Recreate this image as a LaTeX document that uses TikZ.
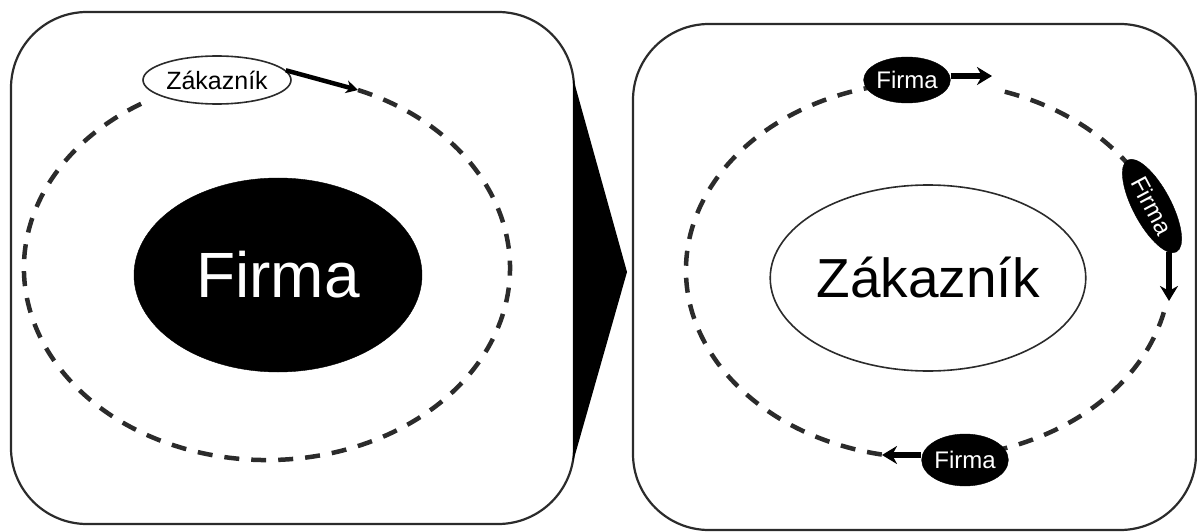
\documentclass[tikz,border=0pt]{standalone}
\usepackage{fontspec}
\setmainfont{Liberation Sans}
\usetikzlibrary{shapes.geometric,arrows.meta}
\definecolor{ink}{HTML}{2B2B2B}
\tikzset{
  panel/.style={draw=ink, line width=2.2pt, rounded corners=76pt},
  orbit/.style={draw=ink, line width=4.5pt, dash pattern=on 15pt off 12pt},
  blackov/.style={ellipse, fill=black, draw=black, text=white, inner sep=0pt},
  whiteov/.style={ellipse, fill=white, draw=ink, line width=1.6pt, text=black, inner sep=0pt},
  bigarr/.style={line width=6pt, -{Stealth[length=15pt,width=18pt]}},
  smallarr/.style={line width=4.5pt, -{Stealth[length=12pt,width=13pt]}},
}
\begin{document}
\begin{tikzpicture}[x=1pt,y=-1pt]
\useasboundingbox (0,0) rectangle (1197,532);
% panels
\draw[panel] (11,12) rectangle (574,524);
\draw[panel] (633,24) rectangle (1196,530);
% arrow wedge between panels
\fill[black] (573,78) -- (627,272) -- (573,462) -- cycle;

% ---------- left panel ----------
\coordinate (c1) at (358,90);
\draw[orbit] (c1) arc[start angle=-68, end angle=241, x radius=243, y radius=192];
\node[blackov, minimum width=288pt, minimum height=194pt, font=\fontsize{64}{64}\selectfont] (firmaL) at (278,275) {Firma};
\node[whiteov, minimum width=148pt, minimum height=48pt, font=\fontsize{25}{25}\selectfont] (zakL) at (217,80) {Zákazník};
\draw[smallarr] (zakL.8) -- (c1);

% ---------- right panel ----------
\coordinate (oc) at (928,270);
\draw[orbit] ([shift={(13:242 and 188)}]oc) arc[start angle=13, end angle=74, x radius=242, y radius=188];
\draw[orbit] ([shift={(101:242 and 188)}]oc) arc[start angle=101, end angle=258, x radius=242, y radius=188];
\draw[orbit] ([shift={(-71.5:242 and 188)}]oc) arc[start angle=-71.5, end angle=-35, x radius=242, y radius=188];
\node[whiteov, minimum width=264pt, minimum height=186pt, font=\fontsize{55}{55}\selectfont] (zakR) at (928,278) {Zákazník};
\node[blackov, minimum width=84pt, minimum height=46pt, font=\fontsize{24}{24}\selectfont] (f1) at (907,80) {Firma};
\node[blackov, minimum width=104pt, minimum height=38pt, rotate=-62, font=\fontsize{24}{24}\selectfont] (f2) at (1152,206) {Firma};
\node[blackov, minimum width=86pt, minimum height=52pt, font=\fontsize{24}{24}\selectfont] (f3) at (965,460) {Firma};
\coordinate (c2) at (992,76);
\coordinate (c3) at (1169,301);
\coordinate (c4) at (882,455);
\draw[bigarr] (f1.east |- c2) -- (c2);
\draw[bigarr] (f2.east -| c3) -- (c3);
\draw[bigarr] (f3.west |- c4) -- (c4);
\end{tikzpicture}
\end{document}
